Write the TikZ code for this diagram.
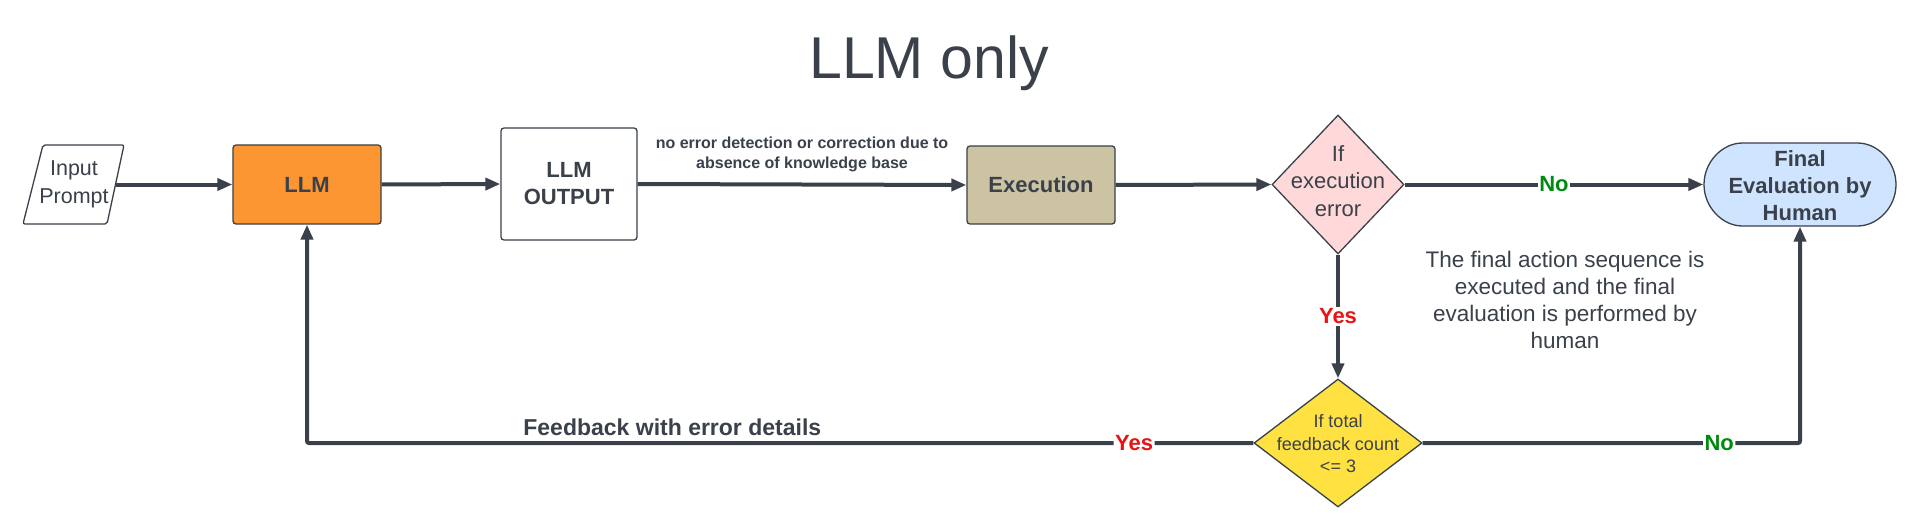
\documentclass[tikz,border=0pt]{standalone}
\usepackage{fontspec}
\setmainfont{Liberation Sans}
\usetikzlibrary{arrows.meta,shapes.geometric,shapes.misc}
\definecolor{ink}{RGB}{58,65,74}
\definecolor{llmorange}{RGB}{252,150,50}
\definecolor{exetan}{RGB}{204,195,163}
\definecolor{pinkd}{RGB}{255,217,217}
\definecolor{blued}{RGB}{207,228,255}
\definecolor{yellowd}{RGB}{255,226,66}
\definecolor{greenl}{RGB}{0,138,14}
\definecolor{redl}{RGB}{232,19,19}
\begin{document}
\begin{tikzpicture}[x=1pt,y=-1pt,
  box/.style={draw=ink, line width=1.3pt, rounded corners=3pt, inner sep=0pt, align=center, text=ink, font=\bfseries\fontsize{22}{27}\selectfont},
  dia/.style={draw=ink, line width=1.3pt, diamond, inner sep=0pt},
  arr/.style={draw=ink, line width=4pt, -{Triangle[length=15pt,width=12pt]}},
  yeslbl/.style={fill=white, text=redl, font=\bfseries\fontsize{22}{26}\selectfont, inner sep=1.5pt},
  nolbl/.style={fill=white, text=greenl, font=\bfseries\fontsize{22}{26}\selectfont, inner sep=1.5pt},
  txt/.style={text=ink, align=center, inner sep=0pt}
]
\useasboundingbox[fill=white] (0,0) rectangle (1920,524);

% title
\node[txt, anchor=base, font=\fontsize{59}{66}\selectfont] (title) at (929,79) {LLM only};

% input parallelogram
\draw[draw=ink, line width=1.3pt, fill=white, rounded corners=2pt] (43,145) -- (124,145) -- (107,224) -- (23,224) -- cycle;
\node[txt, minimum width=83pt, minimum height=79pt, font=\fontsize{21.5}{28}\selectfont] (inp) at (74,184.5) {Input\\Prompt};

% boxes
\node[box, fill=llmorange, minimum width=148pt, minimum height=79pt] (llm) at (307,184.5) {LLM};
\node[box, fill=white, minimum width=136pt, minimum height=112pt] (out) at (569,184) {LLM\\OUTPUT};
\node[box, fill=exetan, minimum width=148pt, minimum height=78pt] (exe) at (1041,185) {Execution};

% decisions
\node[dia, fill=pinkd, minimum width=132pt, minimum height=139pt] (d1) at (1338,184.5) {};
\node[txt, font=\fontsize{22}{27.5}\selectfont] (d1t) at (1338,181) {If\\execution\\error};
\node[dia, fill=yellowd, minimum width=168pt, minimum height=128pt] (d2) at (1338,443) {};
\node[txt, font=\fontsize{18}{22.5}\selectfont] (d2t) at (1338,444) {If total\\feedback count\\<= 3};

% final
\node[box, rounded rectangle, fill=blued, minimum width=192pt, minimum height=83pt] (fin) at (1800,184.5) {};
\node[txt, font=\bfseries\fontsize{22}{27}\selectfont] (fint) at (1800,186) {Final\\Evaluation by\\Human};

% note
\node[txt, font=\fontsize{22.5}{27.3}\selectfont] (note) at (1565,300) {The final action sequence is\\executed and the final\\evaluation is performed by\\human};

% connectors
\draw[arr] (inp.east) -- (llm.west);
\draw[arr] (llm.east) -- (out.west);
\draw[arr] (out.east) -- node[pos=0.5, yshift=30pt, txt, font=\bfseries\fontsize{16}{20}\selectfont] (lbl1) {no error detection or correction due to\\absence of knowledge base} (exe.west);
\draw[arr] (exe.east) -- (d1.west);
\draw[arr] (d1.east) -- node[nolbl] (no1) {No} (fin.west);
\draw[arr] (d1.south) -- node[yeslbl] (yes1) {Yes} (d2.north);
\draw[arr, rounded corners=2pt] (d2.west) -- node[pos=0.126, yeslbl] (yes2) {Yes}
   node[pos=0.614, yshift=16pt, txt, font=\bfseries\fontsize{23}{27}\selectfont] (fb) {Feedback with error details}
   (llm.south |- d2.west) -- (llm.south);
\draw[arr, rounded corners=2pt] (d2.east) -- node[pos=0.786, nolbl] (no2) {No} (fin.south |- d2.east) -- (fin.south);
\end{tikzpicture}
\end{document}
